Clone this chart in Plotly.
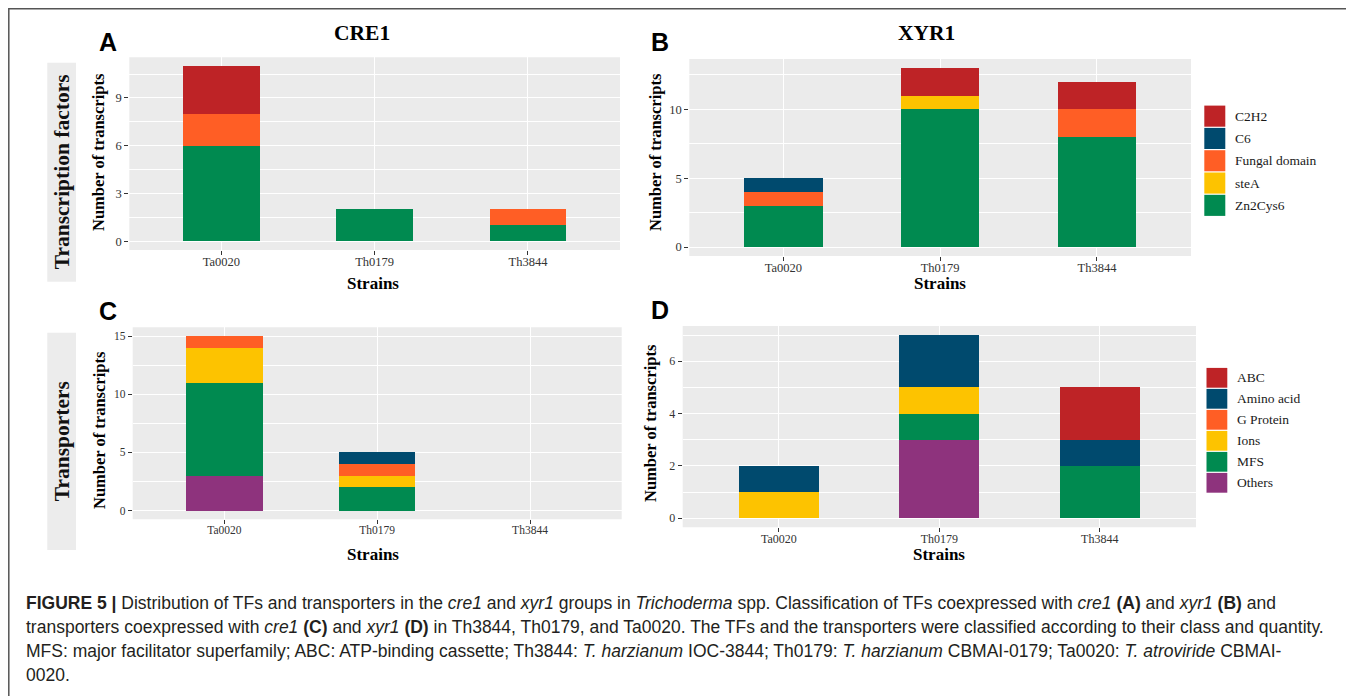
import plotly.graph_objects as go

# page is offset by the browser's 8px body margin
OX, OY = 8, 8
W, H = 1346, 688

# ---------------- data ----------------
strains = ["Ta0020", "Th0179", "Th3844"]

tf_classes = ["C2H2", "C6", "Fungal domain", "steA", "Zn2Cys6"]
tf_colors = ["#be2326", "#004a6e", "#ff5e25", "#fdc300", "#008a50"]
# rows follow tf_classes, columns follow strains
cre1_tf = [[3, 0, 0], [0, 0, 0], [2, 0, 1], [0, 0, 0], [6, 2, 1]]
xyr1_tf = [[0, 2, 2], [1, 0, 0], [1, 0, 2], [0, 1, 0], [3, 10, 8]]

tr_classes = ["ABC", "Amino acid", "G Protein", "Ions", "MFS", "Others"]
tr_colors = ["#be2326", "#004a6e", "#ff5e25", "#fdc300", "#008a50", "#8e337d"]
cre1_tr = [[0, 0, 0], [0, 1, 0], [1, 1, 0], [3, 1, 0], [8, 2, 0], [3, 0, 0]]
xyr1_tr = [[0, 0, 2], [1, 2, 1], [0, 0, 0], [1, 1, 0], [0, 1, 2], [0, 3, 0]]

y_ticks_A = [0, 3, 6, 9]
y_ticks_B = [0, 5, 10]
y_ticks_C = [0, 5, 10, 15]
y_ticks_D = [0, 2, 4, 6]


def px(x):
    return (x - OX) / W


def py(y):
    return 1 - (y - OY) / H


SERIF = "Liberation Serif, Times New Roman, serif"
SANS = "Liberation Sans, Arial, Helvetica, sans-serif"

fig = go.Figure()

panels = [
    ("", cre1_tf, tf_classes, tf_colors, (129.3, 620.0), (57.3, 250.0), y_ticks_A, 12.5),
    ("2", xyr1_tf, tf_classes, tf_colors, (689.3, 1191.0), (59.0, 256.0), y_ticks_B, 12.5),
    ("3", cre1_tr, tr_classes, tr_colors, (132.7, 621.7), (327.3, 519.3), y_ticks_C, 11.5),
    ("4", xyr1_tr, tr_classes, tr_colors, (682.7, 1196.0), (326.0, 527.3), y_ticks_D, 12.0),
]

layout_axes = {}
for key, counts, classes, colors, xd, yd, ticks, tfs in panels:
    # stack: last class at bottom (ggplot order)
    for i in reversed(range(len(classes))):
        fig.add_trace(go.Bar(
            x=strains, y=counts[i], name=classes[i],
            marker=dict(color=colors[i], line=dict(width=0)),
            width=0.5, showlegend=False,
            xaxis="x" + key, yaxis="y" + key,
        ))
    ymax = max(sum(counts[i][j] for i in range(len(classes))) for j in range(len(strains)))
    pad = ymax * 0.05
    step = ticks[1] - ticks[0]
    layout_axes["xaxis" + key] = dict(
        domain=[px(xd[0]), px(xd[1])], anchor="y" + key,
        type="category", categoryorder="array", categoryarray=strains,
        range=[-0.6, 2.6], showgrid=True, gridcolor="white", gridwidth=1.1,
        ticks="outside", ticklen=4, tickcolor="#333", tickwidth=1,
        ticklabelstandoff=-4,
        tickfont=dict(family=SERIF, size=tfs, color="#333"),
        showline=False, zeroline=False, fixedrange=True,
    )
    layout_axes["yaxis" + key] = dict(
        domain=[py(yd[1]), py(yd[0])], anchor="x" + key,
        range=[-pad, ymax + pad], tickvals=ticks,
        showgrid=True, gridcolor="white", gridwidth=1.1,
        minor=dict(dtick=step / 2, tick0=0, showgrid=True, gridcolor="white", gridwidth=0.5),
        ticks="outside", ticklen=4, tickcolor="#333", tickwidth=1,
        tickfont=dict(family=SERIF, size=tfs, color="#333"),
        showline=False, zeroline=False, fixedrange=True,
    )

shapes = []
annotations = []

# panel backgrounds
for key, counts, classes, colors, xd, yd, ticks, tfs in panels:
    shapes.append(dict(type="rect", xref="paper", yref="paper",
                       x0=px(xd[0]), x1=px(xd[1]), y0=py(yd[1]), y1=py(yd[0]),
                       fillcolor="#ebebeb", line=dict(width=0), layer="below"))

# outer frame
shapes.append(dict(type="rect", xref="paper", yref="paper",
                   x0=px(8.8), x1=px(1351), y0=py(705), y1=py(8.8),
                   fillcolor="rgba(0,0,0,0)", line=dict(color="#555", width=1.5)))

# row label boxes
for (y0, y1, txt, cy) in [(62.7, 281.7, "Transcription factors", 172.3),
                          (332.7, 550.0, "Transporters", 441.3)]:
    shapes.append(dict(type="rect", xref="paper", yref="paper",
                       x0=px(47.3), x1=px(76), y0=py(y1), y1=py(y0),
                       fillcolor="#ececec", line=dict(width=0), layer="below"))
    annotations.append(dict(x=px(62), y=py(cy), xref="paper", yref="paper",
                            text="<b>%s</b>" % txt, textangle=-90, showarrow=False,
                            font=dict(family=SERIF, size=21.5, color="#111"),
                            xanchor="center", yanchor="middle"))


def ann(x, y, text, size, family=SERIF, angle=0, xanchor="center", color="#000"):
    annotations.append(dict(x=px(x), y=py(y), xref="paper", yref="paper", text=text,
                            showarrow=False, textangle=angle, xanchor=xanchor,
                            yanchor="middle", font=dict(family=family, size=size, color=color)))


# titles
ann(362, 32.7, "<b>CRE1</b>", 21.5)
ann(926, 32.7, "<b>XYR1</b>", 21.5)
# panel letters
ann(108, 41.7, "<b>A</b>", 25, SANS)
ann(660, 41.7, "<b>B</b>", 25, SANS)
ann(108, 310.7, "<b>C</b>", 25, SANS)
ann(660, 310.0, "<b>D</b>", 25, SANS)
# y titles
ann(98, 152, "<b>Number of transcripts</b>", 16.5, angle=-90)
ann(655, 152, "<b>Number of transcripts</b>", 16.5, angle=-90)
ann(99, 430, "<b>Number of transcripts</b>", 16.5, angle=-90)
ann(650, 423, "<b>Number of transcripts</b>", 16.5, angle=-90)
# x titles
ann(373, 283.3, "<b>Strains</b>", 17)
ann(940, 283.3, "<b>Strains</b>", 17)
ann(373, 554.3, "<b>Strains</b>", 17)
ann(939, 554.3, "<b>Strains</b>", 17)


# legends
def legend(classes, colors, x0, x1, ytop, kh, lx, size):
    for i, (c, col) in enumerate(zip(classes, colors)):
        t = ytop + i * kh
        shapes.append(dict(type="rect", xref="paper", yref="paper",
                           x0=px(x0), x1=px(x1), y0=py(t + kh - 0.6), y1=py(t + 0.6),
                           fillcolor=col, line=dict(width=0)))
        ann(lx, t + kh / 2, c, size, xanchor="left", color="#1a1a1a")


legend(tf_classes, tf_colors, 1204.3, 1225.3, 105.0, 22.3, 1233.3, 13.5)
legend(tr_classes, tr_colors, 1206.5, 1227.3, 367.3, 21.0, 1234.6, 13.5)

# caption
cap_lines = [
    "<b>FIGURE 5 |</b> Distribution of TFs and transporters in the <i>cre1</i> and <i>xyr1</i> groups in "
    "<i>Trichoderma</i> spp. Classification of TFs coexpressed with <i>cre1</i> <b>(A)</b> and <i>xyr1</i> <b>(B)</b> and",
    "transporters coexpressed with <i>cre1</i> <b>(C)</b> and <i>xyr1</i> <b>(D)</b> in Th3844, Th0179, and Ta0020. "
    "The TFs and the transporters were classified according to their class and quantity.",
    "MFS: major facilitator superfamily; ABC: ATP-binding cassette; Th3844: <i>T. harzianum</i> IOC-3844; "
    "Th0179: <i>T. harzianum</i> CBMAI-0179; Ta0020: <i>T. atroviride</i> CBMAI-",
    "0020.",
]
for i, line in enumerate(cap_lines):
    ann(24, 603 + i * 24, line, 17.5, SANS, xanchor="left", color="#231f20")

fig.update_layout(
    width=W, height=H, margin=dict(l=0, r=0, t=0, b=0),
    paper_bgcolor="white", plot_bgcolor="rgba(0,0,0,0)",
    barmode="stack", showlegend=False,
    shapes=shapes, annotations=annotations,
    **layout_axes,
)

fig.write_html("out.html")
